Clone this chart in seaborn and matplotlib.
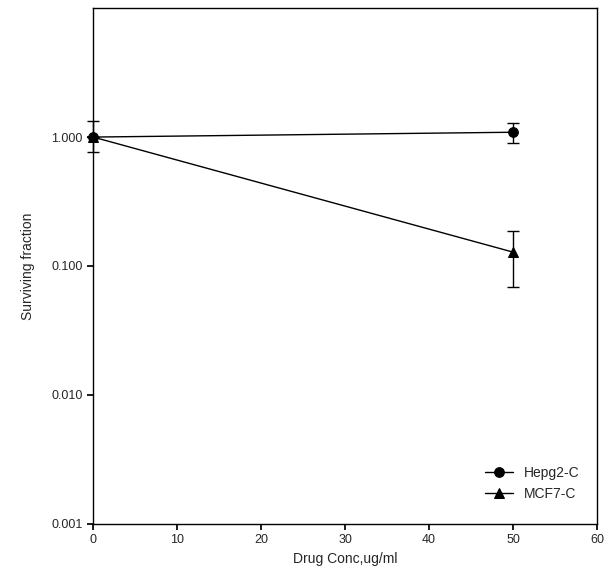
import pandas as pd
import seaborn as sns
import matplotlib.pyplot as plt
from matplotlib.ticker import FixedLocator, NullLocator

sns.set_theme(style="ticks")
plt.rcParams['font.family'] = ['Liberation Sans', 'DejaVu Sans']

# values
conc = [0, 50]
hepg2 = [1.0, 1.09]
hepg2_lo = [0.77, 0.90]
hepg2_hi = [1.33, 1.28]
mcf7 = [1.0, 0.128]
mcf7_lo = [1.0, 0.069]
mcf7_hi = [1.0, 0.186]

df = pd.DataFrame({
    "conc": conc * 2,
    "frac": hepg2 + mcf7,
    "line": ["Hepg2-C"] * 2 + ["MCF7-C"] * 2,
})

fig = plt.figure(figsize=(6.05, 5.82), dpi=100)
ax = fig.add_axes([0.154, 0.100, 0.833, 0.886])

sns.lineplot(data=df, x="conc", y="frac", style="line", markers=["o", "^"],
             dashes=False, color="black", markersize=7, linewidth=1,
             markeredgecolor="black", ax=ax)

# Hepg2 circle sits on top of the triangle at 0
ax.lines[0].set_zorder(4)

# error bars
for y, lo, hi in [(hepg2, hepg2_lo, hepg2_hi), (mcf7, mcf7_lo, mcf7_hi)]:
    yerr = [[v - l for v, l in zip(y, lo)], [h - v for v, h in zip(y, hi)]]
    ax.errorbar(conc, y, yerr=yerr, fmt="none", ecolor="black",
                elinewidth=1, capsize=4, clip_on=False)

for ln in ax.lines:
    ln.set_clip_on(False)

ax.set_yscale("log")
ax.set_ylim(0.001, 10)
ax.set_xlim(0, 60)
ax.yaxis.set_major_locator(FixedLocator([0.001, 0.01, 0.1, 1.0]))
ax.yaxis.set_minor_locator(NullLocator())
ax.set_yticklabels(["0.001", "0.010", "0.100", "1.000"])
ax.set_xticks([0, 10, 20, 30, 40, 50, 60])
ax.tick_params(labelsize=9, length=4, color="black")
for s in ax.spines.values():
    s.set_color("black")
    s.set_linewidth(1)

ax.set_xlabel("Drug Conc,ug/ml", fontsize=10)
ax.set_ylabel("Surviving fraction", fontsize=10, labelpad=12)

leg = ax.legend(loc="lower right", frameon=False, fontsize=10, title=None,
                handlelength=2, bbox_to_anchor=(0.99, 0.02))
for h in leg.legend_handles:
    h.set_markeredgecolor("black")

plt.savefig("out.png", dpi=100)
